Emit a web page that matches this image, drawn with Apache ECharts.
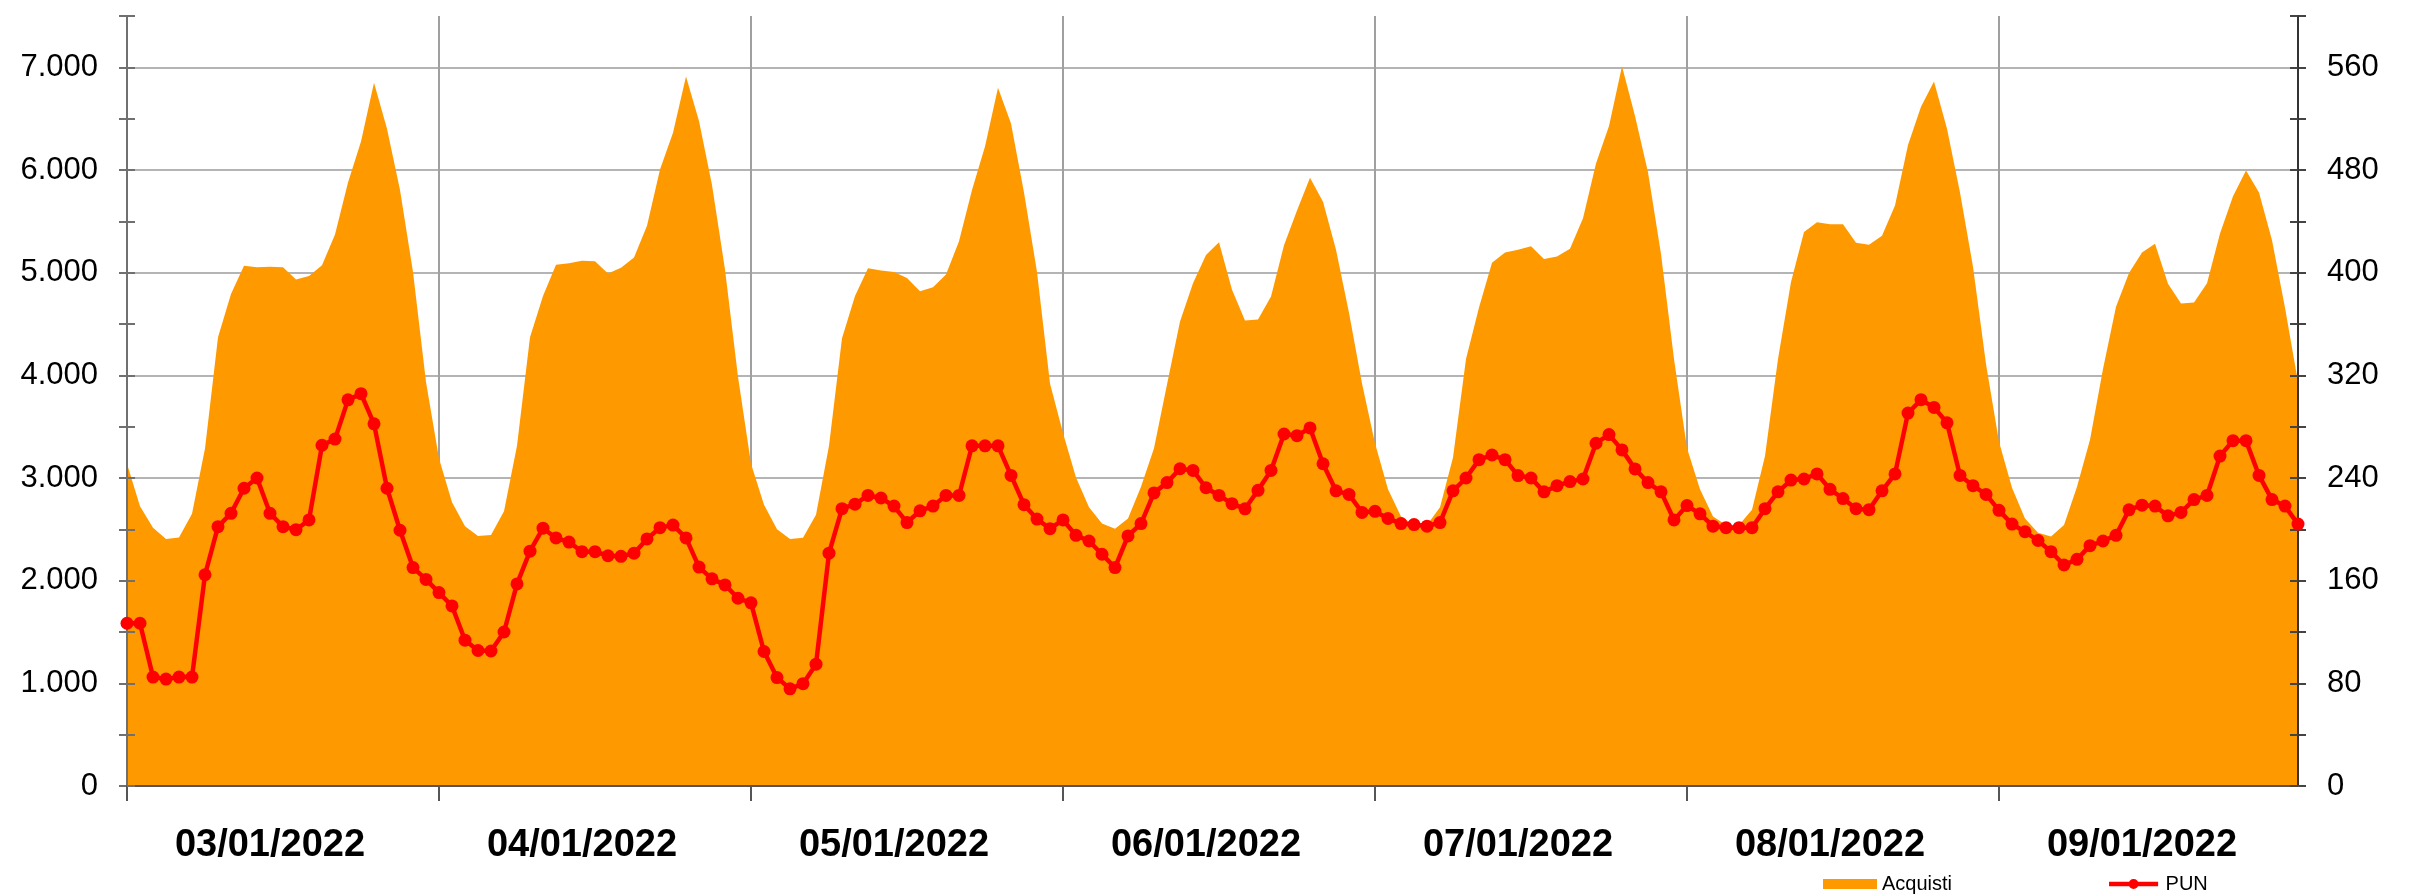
<!DOCTYPE html>
<html>
<head>
<meta charset="utf-8">
<script src="https://cdn.jsdelivr.net/npm/echarts@6/dist/echarts.min.js"></script>
<style>
  html, body { margin: 0; padding: 0; background: #fff; }
  #main { width: 2409px; height: 895px; }
</style>
</head>
<body>
<div id="main"></div>
<script>
// days shown on the x axis, 24 hourly points each
const days = ['03/01/2022', '04/01/2022', '05/01/2022', '06/01/2022', '07/01/2022', '08/01/2022', '09/01/2022']
const hoursPerDay = 24

// Acquisti (MWh) - left axis
const acquisti = [
  3139, 2725, 2516, 2407, 2421, 2651, 3288, 4370, 4793, 5067, 5052, 5057, 5052, 4933, 4968, 5072, 5371, 5879, 6278, 6851, 6403, 5805, 5007, 3936,
  3189, 2765, 2531, 2436, 2446, 2676, 3313, 4370, 4773, 5077, 5092, 5117, 5112, 4993, 5047, 5147, 5456, 6004, 6363, 6911, 6477, 5855, 5032, 3986,
  3139, 2740, 2501, 2407, 2417, 2641, 3313, 4360, 4773, 5042, 5022, 5007, 4948, 4818, 4858, 4983, 5306, 5805, 6228, 6801, 6452, 5780, 5007, 3921,
  3438, 3004, 2716, 2556, 2506, 2606, 2915, 3289, 3911, 4524, 4898, 5172, 5296, 4833, 4534, 4544, 4768, 5267, 5605, 5924, 5690, 5222, 4609, 3921,
  3338, 2890, 2626, 2541, 2541, 2716, 3200, 4160, 4660, 5097, 5197, 5222, 5257, 5132, 5157, 5232, 5531, 6064, 6428, 7010, 6527, 5979, 5182, 4160,
  3289, 2890, 2626, 2541, 2541, 2691, 3214, 4160, 4908, 5396, 5491, 5471, 5471, 5291, 5271, 5360, 5655, 6243, 6617, 6861, 6403, 5780, 5057, 4111,
  3353, 2905, 2606, 2466, 2431, 2541, 2915, 3373, 4061, 4669, 4997, 5197, 5282, 4893, 4699, 4709, 4898, 5381, 5745, 5994, 5780, 5316, 4659, 3936
]

// PUN (€/MWh) - right axis
const pun = [
  126.8, 126.8, 84.9, 83.3, 84.9, 84.9, 164.6, 202.1, 212.5, 232.0, 240.0, 212.5, 202.1, 199.7, 207.3, 265.5, 270.3, 300.9, 305.7, 282.2, 232.0, 199.3, 170.2, 161.0,
  150.7, 140.3, 113.6, 105.6, 105.2, 120.0, 157.5, 183.0, 200.9, 193.3, 190.1, 182.6, 182.6, 179.4, 179.0, 181.4, 192.5, 201.3, 203.3, 193.3, 170.6, 161.4, 156.7, 146.3,
  142.7, 104.8, 84.5, 75.7, 79.7, 94.9, 181.4, 216.1, 219.6, 226.4, 224.4, 218.1, 205.3, 214.4, 218.1, 226.4, 226.4, 265.1, 265.1, 265.1, 242.0, 219.2, 208.0, 200.5,
  207.3, 195.3, 190.9, 180.6, 170.2, 194.9, 204.5, 228.4, 236.4, 247.2, 245.9, 232.4, 226.4, 220.0, 216.0, 230.4, 245.9, 274.3, 273.0, 279.0, 251.1, 230.0, 227.2, 213.2,
  214.0, 208.5, 204.5, 203.7, 202.5, 205.3, 230.0, 240.0, 254.3, 257.9, 254.3, 241.9, 240.0, 229.2, 234.0, 237.2, 239.2, 267.1, 273.8, 261.9, 247.1, 236.4, 229.2, 207.3,
  218.5, 212.1, 202.5, 201.3, 201.3, 201.3, 216.1, 229.2, 238.4, 239.2, 243.2, 231.2, 224.0, 216.1, 215.3, 230.0, 243.2, 290.6, 301.0, 295.0, 283.0, 242.0, 234.0, 227.2,
  214.8, 204.1, 198.1, 191.3, 182.6, 172.2, 176.6, 187.3, 190.9, 195.3, 215.2, 218.8, 218.1, 210.5, 213.2, 223.2, 226.4, 257.1, 269.1, 269.1, 242.0, 223.2, 218.1, 204.1
]

const leftMax = 7500
const leftStep = 500
const rightMax = 600
const rightStep = 40

const categories = []
days.forEach(d => {
    for (let h = 1; h <= hoursPerDay; h++) categories.push(d + ' ' + h)
})

const FONT = '"Liberation Sans", Arial, sans-serif'
const chart = echarts.init(document.getElementById('main'))

function fmtThousands(v) {
    if (v === 0) return '0'
    return Math.floor(v / 1000) + '.' + String(v % 1000).padStart(3, '0')
}

const dayStart = (i) => i % hoursPerDay === 0
const dayMid = (i) => i % hoursPerDay === 11

// legend icon for PUN: thick line with a dot in the middle
const punIcon = 'path://M0,3 L54,3 L54,8 L0,8 Z M21.5,5.5 A5.5,5.5 0 1,1 32.5,5.5 A5.5,5.5 0 1,1 21.5,5.5 Z'

const option = {
    animation: false,
    backgroundColor: '#fff',
    grid: { left: 127, right: 111, top: 16, bottom: 109 },
    legend: {
        left: 1818,
        top: 869,
        itemWidth: 54,
        itemHeight: 10,
        itemGap: 157,
        textStyle: { fontFamily: FONT, fontSize: 20, color: '#000' },
        data: [
            { name: 'Acquisti', icon: 'rect' },
            { name: 'PUN', icon: punIcon, itemStyle: { color: '#ff0000' } }
        ]
    },
    xAxis: [
        {
            type: 'category',
            data: categories,
            boundaryGap: false,
            axisLine: { show: false },
            axisTick: { show: true, interval: dayStart, length: 15, lineStyle: { color: '#555', width: 2 } },
            axisLabel: {
                interval: dayMid,
                formatter: v => v.split(' ')[0],
                margin: 41,
                fontFamily: FONT,
                fontSize: 38,
                fontWeight: 'bold',
                color: '#000'
            },
            splitLine: { show: true, interval: dayStart, lineStyle: { color: '#a0a0a0', width: 2 } }
        },
        {
            type: 'category',
            data: categories,
            boundaryGap: false,
            position: 'bottom',
            z: 3,
            axisLine: { show: true, lineStyle: { color: '#555', width: 2 } },
            axisTick: { show: false },
            axisLabel: { show: false },
            splitLine: { show: false }
        }
    ],
    yAxis: [
        {
            type: 'value',
            position: 'left',
            min: 0, max: leftMax, interval: leftStep,
            axisLine: { show: false },
            axisTick: { show: true, length: 8, lineStyle: { color: '#707070', width: 2 } },
            axisLabel: {
                margin: 29,
                fontFamily: FONT, fontSize: 31, color: '#000',
                formatter: v => (v % 1000 === 0 && v < leftMax) ? fmtThousands(v) : ''
            },
            splitLine: { show: true, showMaxLine: false, lineStyle: { color: ['#b4b4b4', 'rgba(0,0,0,0)'], width: 2 } }
        },
        {
            type: 'value',
            position: 'right',
            min: 0, max: rightMax, interval: rightStep,
            axisLine: { show: false },
            axisTick: { show: true, length: 8, lineStyle: { color: '#444', width: 2 } },
            axisLabel: {
                margin: 29,
                fontFamily: FONT, fontSize: 31, color: '#000',
                formatter: v => (v % 80 === 0 && v < rightMax) ? String(v) : ''
            },
            splitLine: { show: false }
        },
        {
            type: 'value',
            position: 'left',
            min: 0, max: leftMax, interval: leftStep,
            z: 3,
            axisLine: { show: true, lineStyle: { color: '#707070', width: 2 } },
            axisTick: { show: true, inside: true, length: 8, lineStyle: { color: '#707070', width: 2 } },
            axisLabel: { show: false },
            splitLine: { show: false }
        },
        {
            type: 'value',
            position: 'right',
            min: 0, max: rightMax, interval: rightStep,
            z: 3,
            axisLine: { show: true, lineStyle: { color: '#333', width: 2 } },
            axisTick: { show: true, inside: true, length: 8, lineStyle: { color: '#444', width: 2 } },
            axisLabel: { show: false },
            splitLine: { show: false }
        }
    ],
    series: [
        {
            name: 'Acquisti',
            type: 'line',
            xAxisIndex: 0,
            yAxisIndex: 0,
            z: 1,
            data: acquisti,
            showSymbol: false,
            symbol: 'none',
            itemStyle: { color: '#ff9900' },
            lineStyle: { width: 0 },
            areaStyle: { color: '#ff9900', opacity: 1 }
        },
        {
            name: 'PUN',
            type: 'line',
            xAxisIndex: 0,
            yAxisIndex: 1,
            z: 5,
            data: pun,
            symbol: 'circle',
            symbolSize: 13,
            showAllSymbol: true,
            itemStyle: { color: '#ff0000' },
            lineStyle: { color: '#ff0000', width: 4.5 }
        }
    ]
}

chart.setOption(option)
</script>
</body>
</html>
